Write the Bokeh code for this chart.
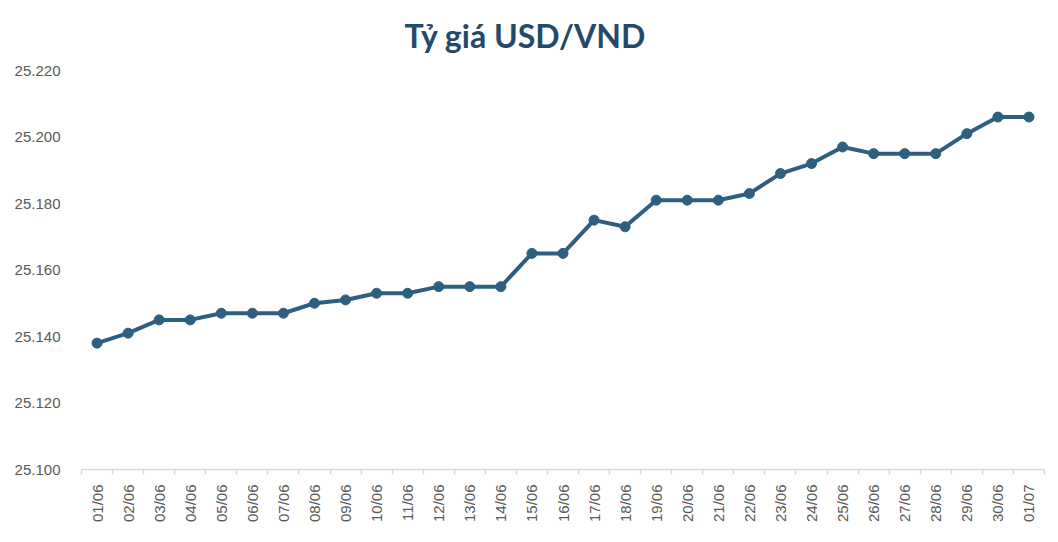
import math
from bokeh.plotting import figure
from bokeh.models import FixedTicker, Range1d, ColumnDataSource
from bokeh.embed import file_html
from bokeh.resources import INLINE

dates = ["01/06", "02/06", "03/06", "04/06", "05/06", "06/06", "07/06", "08/06",
         "09/06", "10/06", "11/06", "12/06", "13/06", "14/06", "15/06", "16/06",
         "17/06", "18/06", "19/06", "20/06", "21/06", "22/06", "23/06", "24/06",
         "25/06", "26/06", "27/06", "28/06", "29/06", "30/06", "01/07"]
rates = [25138, 25141, 25145, 25145, 25147, 25147, 25147, 25150,
         25151, 25153, 25153, 25155, 25155, 25155, 25165, 25165,
         25175, 25173, 25181, 25181, 25181, 25183, 25189, 25192,
         25197, 25195, 25195, 25195, 25201, 25206, 25206]
y_ticks = [25100, 25120, 25140, 25160, 25180, 25200, 25220]

LINE = "#2E5F80"
TXT = "#595959"

idx = list(range(len(dates)))
src = ColumnDataSource(dict(x=idx, y=rates))

p = figure(width=1050, height=534, output_backend="svg", toolbar_location=None,
           x_range=Range1d(-0.5, len(dates) - 0.5),
           y_range=Range1d(y_ticks[0], y_ticks[-1]),
           min_border_left=81, min_border_right=6, min_border_top=70,
           min_border_bottom=65, title="Tỷ giá USD/VND")
p.outline_line_color = None
p.background_fill_color = "white"
p.border_fill_color = "white"

p.title.align = "left"
p.title.vertical_align = "top"
p.title.offset = 323
p.title.standoff = 28
p.title.text_font = "Lato"
p.title.text_font_style = "bold"
p.title.text_font_size = "32px"
p.title.text_color = "#234A6B"

p.line("x", "y", source=src, line_color=LINE, line_width=4)
p.scatter("x", "y", source=src, size=10, fill_color=LINE, line_color=LINE)

p.xgrid.grid_line_color = None
p.ygrid.grid_line_color = None

xa = p.xaxis[0]
xa.ticker = FixedTicker(ticks=idx, minor_ticks=[i - 0.5 for i in range(len(dates) + 1)])
xa.major_label_overrides = {i: d for i, d in enumerate(dates)}
xa.major_label_orientation = math.pi / 2
xa.major_tick_line_color = None
xa.major_tick_out = 0
xa.major_tick_in = 0
xa.minor_tick_line_color = "#D9D9D9"
xa.minor_tick_line_width = 1.5
xa.minor_tick_out = 5
xa.minor_tick_in = 0
xa.axis_line_color = "#D9D9D9"
xa.axis_line_width = 1.5
xa.major_label_standoff = 10
xa.major_label_text_font = "Liberation Sans"
xa.major_label_text_font_size = "15px"
xa.major_label_text_color = TXT

ya = p.yaxis[0]
ya.ticker = FixedTicker(ticks=y_ticks)
ya.major_label_overrides = {v: f"{v:,}".replace(",", ".") for v in y_ticks}
ya.axis_line_color = None
ya.major_tick_line_color = None
ya.minor_tick_line_color = None
ya.major_tick_out = 0
ya.major_tick_in = 0
ya.major_label_standoff = 21
ya.major_label_text_font = "Liberation Sans"
ya.major_label_text_font_size = "15px"
ya.major_label_text_color = TXT

open("out.html", "w").write(file_html(p, INLINE))
